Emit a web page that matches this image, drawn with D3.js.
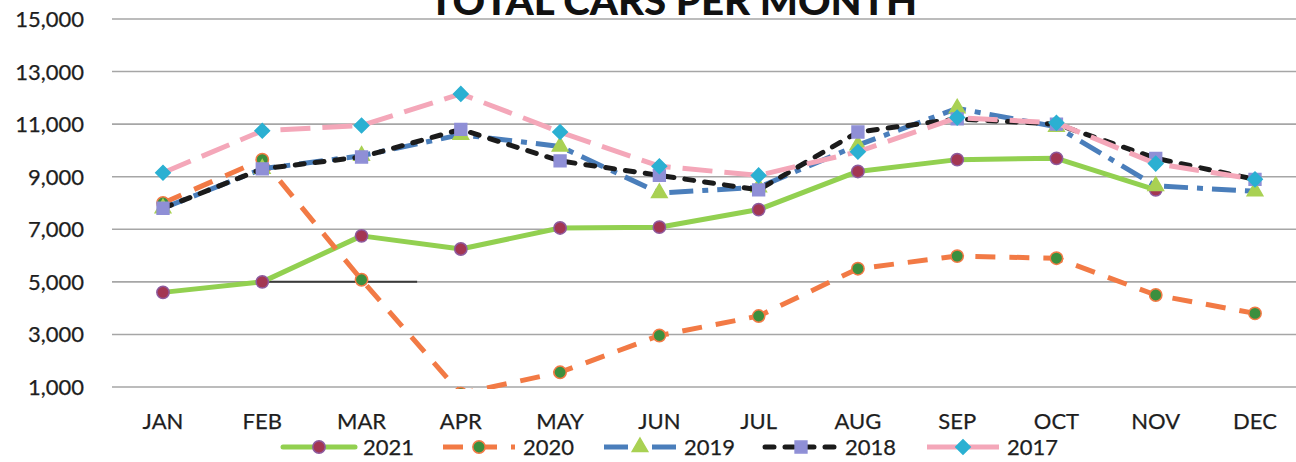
<!DOCTYPE html>
<html><head><meta charset="utf-8">
<script src="https://cdn.jsdelivr.net/npm/d3@7"></script>
<style>
html,body{margin:0;padding:0;background:#fff;}
svg{display:block;}
text{font-family:Lato,"Open Sans",sans-serif;}
.lbl{stroke:#1e1e1e;stroke-width:0.25px;paint-order:stroke;}
</style></head>
<body><svg id="c" width="1296" height="462"></svg>
<script>
const months = ["JAN","FEB","MAR","APR","MAY","JUN","JUL","AUG","SEP","OCT","NOV","DEC"];
const yTicks = [1000,3000,5000,7000,9000,11000,13000,15000];
const title = "TOTAL CARS PER MONTH";
const v2021 = [4600,5000,6750,6250,7050,7080,7750,9200,9650,9700,8500,null];
const v2020 = [8000,9650,5080,750,1560,2960,3700,5500,5980,5900,4500,3800];
const v2019 = [7800,9300,9800,10600,10150,8380,8600,10200,11600,10900,8650,8450];
const v2018 = [7800,9300,9750,10800,9600,9050,8500,10700,11200,11000,9700,8900];
const v2017 = [9150,10750,10950,12150,10700,9400,9050,9950,11250,11050,9500,8900];

const series = [
  {name:"2021", values:v2021, color:"#92D050", dash:null, cap:"round", marker:"circle", mfill:"#A33652", mstroke:"#8E5A9E"},
  {name:"2020", values:v2020, color:"#F27A45", dash:"20,14", cap:"butt", marker:"circle", mfill:"#3B8F3E", mstroke:"#F27A45"},
  {name:"2019", values:v2019, color:"#4A7EBB", dash:"24,9,6,9", cap:"butt", marker:"triangle", mfill:"#A9D153", mstroke:"#A9D153"},
  {name:"2018", values:v2018, color:"#1B1B1B", dash:"9,11", cap:"round", marker:"square", mfill:"#8F8FD6", mstroke:"#8F8FD6"},
  {name:"2017", values:v2017, color:"#F4A7B9", dash:"30,12", cap:"butt", marker:"diamond", mfill:"#2BB0D2", mstroke:"#2BB0D2"}
];

const svg = d3.select("#c");
const W = 1296, H = 462;
const x = d3.scalePoint().domain(months).range([163, 1255]);
const step = x.step();
const y = d3.scaleLinear().domain([1000,15000]).range([387,19]);
const gridLeft = 112;

svg.append("g").selectAll("line").data(yTicks).join("line")
  .attr("x1", gridLeft).attr("x2", W)
  .attr("y1", d=>y(d)).attr("y2", d=>y(d))
  .attr("stroke","#A6A6A6").attr("stroke-width",1.6);

svg.append("g").selectAll("text").data(yTicks).join("text")
  .attr("class","lbl")
  .attr("x", 84).attr("y", d=>y(d)+8)
  .attr("text-anchor","end").attr("font-size",22).attr("fill","#1e1e1e")
  .text(d=>d3.format(",")(d));

svg.append("g").selectAll("text").data(months).join("text")
  .attr("class","lbl")
  .attr("x", d=>x(d)).attr("y", 429)
  .attr("text-anchor","middle").attr("font-size",22).attr("fill","#1e1e1e")
  .text(d=>d);

svg.append("text").attr("x", 673).attr("y", 15).attr("text-anchor","middle")
  .attr("font-size",37).attr("font-weight",900).attr("fill","#111")
  .attr("textLength",488).attr("lengthAdjust","spacingAndGlyphs")
  .text(title);

svg.append("clipPath").attr("id","pc").append("rect")
  .attr("x",0).attr("y",0).attr("width",W).attr("height",y(1000)+2);

svg.append("line").attr("x1", x("FEB")).attr("x2", x("MAR")+0.56*step)
  .attr("y1", y(5000)).attr("y2", y(5000)).attr("stroke","#3a3a3a").attr("stroke-width",2);

const plot = svg.append("g").attr("clip-path","url(#pc)");
const line = d3.line().defined(d=>d!=null).x((d,i)=>x(months[i])).y(d=>y(d));

function markerPath(type){
  if(type==="circle") return d3.symbol(d3.symbolCircle, 120)();
  if(type==="triangle") return d3.symbol(d3.symbolTriangle, 105)();
  if(type==="square") return d3.symbol(d3.symbolSquare, 140)();
  if(type==="diamond") return d3.symbol(d3.symbolSquare, 105)();
}
function markerRot(type){ return type==="diamond" ? " rotate(45)" : ""; }

series.forEach(s=>{
  const g = plot.append("g");
  g.append("path").attr("d", line(s.values)).attr("fill","none")
    .attr("stroke", s.color).attr("stroke-width",5)
    .attr("stroke-linecap", s.cap).attr("stroke-linejoin","round")
    .attr("stroke-dasharray", s.dash);
  g.selectAll("path.m").data(s.values.map((v,i)=>({v,i})).filter(d=>d.v!=null)).join("path")
    .attr("class","m")
    .attr("transform", d=>`translate(${x(months[d.i])},${y(d.v)})${markerRot(s.marker)}`)
    .attr("d", markerPath(s.marker))
    .attr("fill", s.mfill).attr("stroke", s.mstroke).attr("stroke-width",1.5);
});

const legX = [363,523,684,845,1007];
const legY = 447;
series.forEach((s,k)=>{
  const tx = legX[k];
  const g = svg.append("g");
  g.append("line").attr("x1", tx-80).attr("x2", tx-8).attr("y1", legY).attr("y2", legY)
    .attr("stroke", s.color).attr("stroke-width",5)
    .attr("stroke-linecap", s.cap).attr("stroke-dasharray", s.dash);
  g.append("path").attr("transform",`translate(${tx-44},${legY})${markerRot(s.marker)}`)
    .attr("d", markerPath(s.marker)).attr("fill", s.mfill).attr("stroke", s.mstroke).attr("stroke-width",1.5);
  g.append("text").attr("class","lbl").attr("x", tx).attr("y", 455).attr("font-size",22).attr("fill","#1e1e1e").text(s.name);
});
</script></body></html>
